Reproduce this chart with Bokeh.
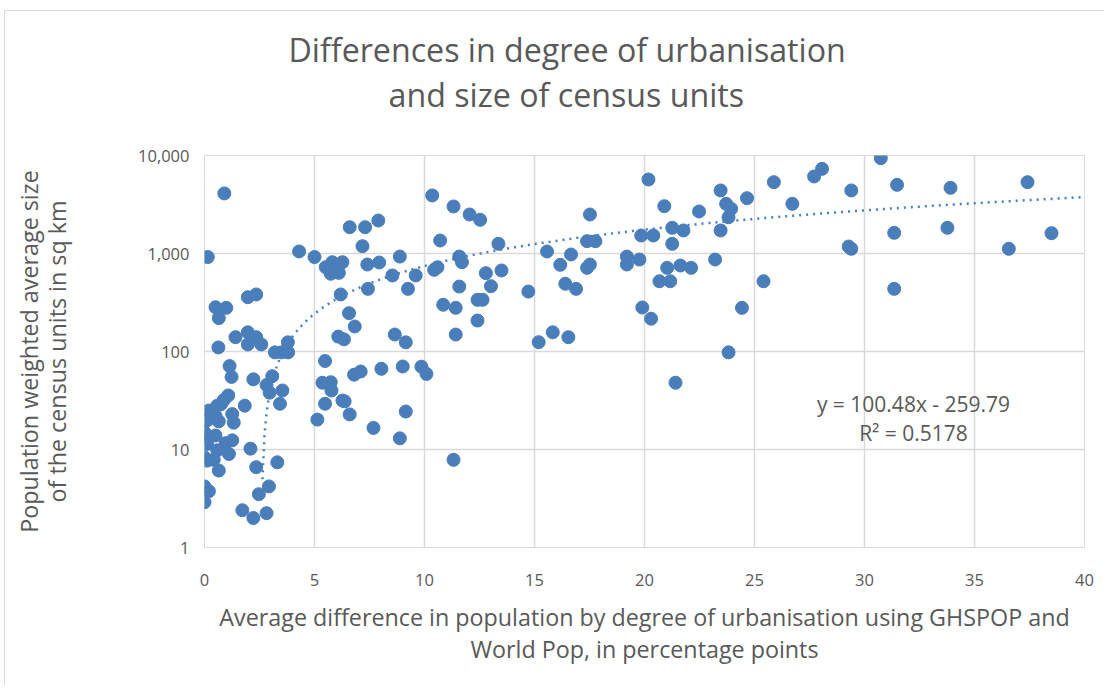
from bokeh.plotting import figure
from bokeh.models import FixedTicker, NumeralTickFormatter, Label, Title
from bokeh.embed import file_html
from bokeh.resources import INLINE
import numpy as np

# --- data ---
diff_pct = [
    0.9, 0.15, 4.3, 5.0, 1.97, 2.35, 0.5, 0.99, 0.65, 0.63, 1.41, 1.97, 2.35, 2.58, 1.97,
    3.79, 3.2, 3.5, 3.8, 1.14, 1.23, 2.22, 3.08, 2.82, 2.96, 3.54, 3.43, 1.83, 1.08, 0.88,
    0.58, 0.2, 0.5, 0.12, 1.26, 1.33, 0.65, 0.0, 0.1, 0.5, 0.12, 0.58, 0.96, 1.26, 1.11,
    0.0, 0.12, 0.42, 0.65, 2.09, 2.35, 3.31, 0.0, 0.2, 0.0, 2.93, 2.47, 1.72, 2.22, 2.82, 0.75,
    5.48, 6.8, 7.1, 8.04, 9.01, 9.86, 10.09, 5.36, 5.74, 5.77, 5.48, 6.27, 6.37, 5.13, 6.6,
    7.68, 9.15, 8.88, 11.32, 15.19, 15.83, 16.54,
    6.6, 7.3, 7.9, 7.18, 8.88, 10.71, 5.51, 5.81, 6.27, 5.74, 6.11, 5.89, 7.4, 7.94, 8.54,
    9.6, 10.44, 10.59, 11.58, 11.7, 10.35, 11.32, 12.05, 12.53, 6.19, 7.43, 9.25, 6.57, 6.83,
    6.08, 6.34, 8.65, 9.15, 11.58, 10.85, 11.42, 12.41, 12.64, 12.41, 11.42,
    13.36, 12.79, 13.5, 13.02, 14.72, 15.57, 16.17, 16.66, 16.4, 16.89, 17.52, 17.39, 17.77,
    17.39, 17.52, 19.2, 19.2, 19.77, 19.85, 19.9,
    20.18, 20.9, 20.4, 21.26, 21.77, 21.26, 22.48, 23.46, 23.71, 23.94, 23.82, 23.46, 24.66,
    25.88, 26.72, 27.71, 28.07, 29.4, 29.28, 29.4, 21.03, 21.63, 22.12, 20.68, 21.17, 23.21,
    20.3, 24.43, 25.41, 23.82, 21.41,
    30.74, 31.48, 33.91, 37.41, 31.35, 33.77, 36.56, 38.5, 31.35,
]
area_sqkm = [
    4100, 920, 1050, 920, 358, 382, 283, 279, 219, 110, 140, 157, 140, 118, 118,
    124, 98, 98, 98, 71, 55, 52, 56, 45.5, 38, 40, 29.3, 28, 35.6, 32,
    28, 25, 22, 19.8, 23, 18.8, 19.4, 15, 13.5, 13.9, 11.4, 9.8, 11.6, 12.4, 9.0,
    8.3, 7.7, 7.85, 6.1, 10.2, 6.6, 7.4, 4.2, 3.75, 2.9, 4.2, 3.5, 2.4, 2.0, 2.24, 29,
    80, 58, 62.5, 66.6, 70.3, 70, 59, 48, 48.6, 40, 29.3, 31.6, 31, 20.2, 22.8,
    16.6, 24.4, 13, 7.85, 124.5, 157, 140,
    1855, 1855, 2170, 1187, 931, 1357, 724, 815, 815, 621, 635, 698, 772, 809, 597,
    597, 682, 724, 931, 815, 3910, 3020, 2500, 2208, 382, 436, 436, 246, 180,
    142, 133, 149, 124, 460, 300, 279, 337, 337, 207, 149,
    1256, 630, 671, 464, 409, 1048, 767, 977, 491, 436, 2500, 1336, 1336,
    714, 772, 931, 772, 868, 1527, 281,
    5690, 3040, 1527, 1829, 1718, 1256, 2685, 4400, 3214, 2858, 2345, 1718, 3667,
    5344, 3214, 6110, 7310, 4400, 1178, 1117, 714, 754, 714, 521, 521, 868,
    216, 279, 521, 98, 48,
    9390, 5020, 4680, 5344, 1626, 1829, 1117, 1611, 436,
]
x_ticks = [0, 5, 10, 15, 20, 25, 30, 35, 40]
y_ticks = [1, 10, 100, 1000, 10000]
trend_slope = 100.48
trend_intercept = -259.79
trend_x_start = 2.635
trend_x_end = 40

title_lines = ["Differences in degree of urbanisation", "and size of census units"]
x_label_lines = ["Average difference in population by degree of urbanisation using GHSPOP and",
                 "World Pop, in percentage points"]
y_label_lines = ["Population weighted average size", "of the census units in sq km"]
eq_lines = ["y = 100.48x - 259.79", "R\u00b2 = 0.5178"]

FONT = "Open Sans"
TXT = "#595959"
BLUE = "#4a7ebb"
GRID = "#d9d9d9"

p = figure(width=1100, height=675, x_range=(0, 40), y_range=(1, 10000),
           y_axis_type="log", output_backend="svg", toolbar_location=None,
           min_border_left=199, min_border_right=21, min_border_top=144,
           min_border_bottom=139, background_fill_color="white",
           border_fill_color="white", outline_line_color=GRID,
           styles={"border-left": "1px solid #d9d9d9", "border-top": "1px solid #d9d9d9",
                   "margin-left": "4px", "margin-top": "10px"})

p.scatter(diff_pct, area_sqkm, size=13, fill_color=BLUE, line_color=BLUE)

tx = np.linspace(trend_x_start, trend_x_end, 400)
ty = trend_slope * tx + trend_intercept
p.line(tx, ty, line_color=BLUE, line_width=2.5, line_dash="2 5")

for ax in (p.xaxis[0], p.yaxis[0]):
    ax.axis_line_color = None
    ax.major_tick_line_color = None
    ax.minor_tick_line_color = None
    ax.major_label_text_font = FONT
    ax.major_label_text_font_size = "16.5px"
    ax.major_label_text_color = TXT
    ax.major_label_text_font_style = "normal"
    ax.axis_label_text_font = FONT
    ax.axis_label_text_font_size = "23.3px"
    ax.axis_label_text_color = TXT
    ax.axis_label_text_font_style = "normal"

p.xaxis.ticker = FixedTicker(ticks=x_ticks)
p.yaxis.ticker = FixedTicker(ticks=y_ticks)
p.yaxis.formatter = NumeralTickFormatter(format="0,0")
p.xaxis.major_label_standoff = 20
p.yaxis.major_label_standoff = 9

p.xaxis.axis_label = "\n".join(x_label_lines)
p.xaxis.axis_label_text_line_height = 1.0
p.xaxis.axis_label_standoff = 12
p.yaxis.axis_label = "\n".join(y_label_lines)
p.yaxis.axis_label_text_line_height = 0.87
p.yaxis.axis_label_standoff = 62

p.xgrid.ticker = FixedTicker(ticks=x_ticks)
p.ygrid.ticker = FixedTicker(ticks=y_ticks)
p.grid.grid_line_color = GRID
p.grid.grid_line_width = 1.5


def make_title(text, size, align="center", offset=0, standoff=0):
    return Title(text=text, text_font=FONT, text_font_size=size, text_color=TXT,
                 text_font_style="normal", align=align, offset=offset, standoff=standoff)


# spacer between plot area and the two-line chart title
p.add_layout(make_title(" ", "10px", standoff=24), "above")
p.add_layout(make_title(title_lines[1], "32.2px", align="left", offset=184), "above")
p.add_layout(make_title(title_lines[0], "32.2px", align="left", offset=84), "above")

for text, y in zip(eq_lines, [144, 115]):
    p.add_layout(Label(x=709, y=y, x_units="screen", y_units="screen", text=text,
                       text_font=FONT, text_font_size="21px", text_color=TXT,
                       text_align="center", text_baseline="middle"))

open("out.html", "w").write(file_html(p, INLINE))
